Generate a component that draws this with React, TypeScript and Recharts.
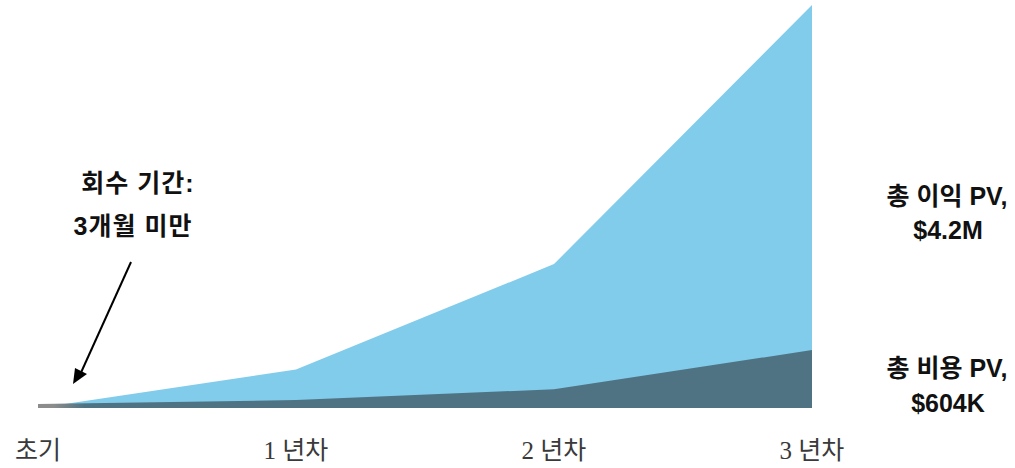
import React from "react";
import { AreaChart, Area, XAxis, YAxis } from "recharts";

const categories = ["초기", "1 년차", "2 년차", "3 년차"];
const benefitPV = [0, 400000, 1500000, 4200000];
const costPV = [42000, 83000, 195000, 604000];

const data = categories.map((c, i) => ({ name: c, benefit: benefitPV[i], cost: costPV[i] }));

const annotationLeft = ["회수 기간:", "3개월 미만"];
const benefitLabel = ["총 이익 PV,", "$4.2M"];
const costLabel = ["총 비용 PV,", "$604K"];

const BLUE = "#81CBEB";
const SLATE = "#4F7383";
const GREY = "#8C8C8C";

const Tick = (props: any) => {
  const { x, y, payload } = props;
  return (
    <text
      x={x}
      y={y}
      dy={43}
      textAnchor="middle"
      fill="#3a3a3a"
      style={{ fontFamily: "'Liberation Serif', 'Noto Sans CJK KR', serif", fontSize: 25 }}
    >
      {payload.value}
    </text>
  );
};

const boldFont = "'Liberation Sans', 'Noto Sans CJK KR', Arial, sans-serif";

export default function App() {
  return (
    <div style={{ position: "absolute", left: 0, top: 0, width: 1015, height: 468, background: "#fff" }}>
      <AreaChart
        width={1015}
        height={468}
        data={data}
        margin={{ top: 5, right: 203, left: 38, bottom: 0 }}
      >
        <defs>
          <linearGradient id="costFill" x1="0" y1="0" x2="1" y2="0">
            <stop offset="0%" stopColor={GREY} />
            <stop offset="2%" stopColor={GREY} />
            <stop offset="6%" stopColor={SLATE} />
            <stop offset="100%" stopColor={SLATE} />
          </linearGradient>
        </defs>
        <XAxis
          dataKey="name"
          axisLine={false}
          tickLine={false}
          height={60}
          tick={<Tick />}
          interval={0}
        />
        <YAxis hide domain={[0, 4200000]} />
        <Area
          type="linear"
          dataKey="benefit"
          stroke="none"
          fill={BLUE}
          fillOpacity={1}
          isAnimationActive={false}
        />
        <Area
          type="linear"
          dataKey="cost"
          stroke="none"
          fill="url(#costFill)"
          fillOpacity={1}
          isAnimationActive={false}
        />
      </AreaChart>
      <svg
        width={1015}
        height={468}
        style={{ position: "absolute", left: 0, top: 0, pointerEvents: "none" }}
      >
        <line x1={131} y1={262} x2={79} y2={377} stroke="#000" strokeWidth={2} />
        <path d="M73,384 L75,368 L87,374 Z" fill="#000" />
        <g style={{ fontFamily: boldFont, fontWeight: 700, fontSize: 25 }} fill="#111" textAnchor="middle">
          <text x={138} y={192} letterSpacing={1}>{annotationLeft[0]}</text>
          <text x={133} y={235} letterSpacing={1}>{annotationLeft[1]}</text>
          <text x={947} y={205}>{benefitLabel[0]}</text>
          <text x={948} y={239}>{benefitLabel[1]}</text>
          <text x={947} y={377}>{costLabel[0]}</text>
          <text x={948} y={412}>{costLabel[1]}</text>
        </g>
      </svg>
    </div>
  );
}
